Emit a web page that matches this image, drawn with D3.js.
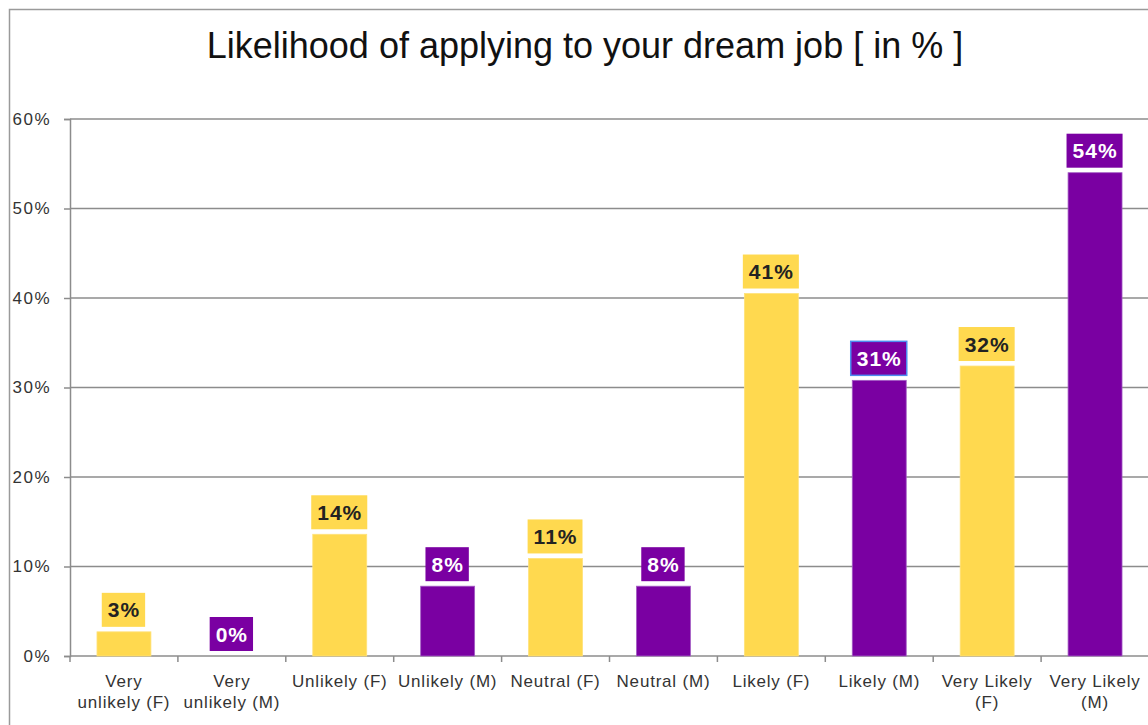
<html>
<head>
<script src="https://d3js.org/d3.v7.min.js"></script>
<style>
  body { margin: 0; background: #fff; }
  text { font-family: "Liberation Sans", Arial, Helvetica, sans-serif; }
</style>
</head>
<body>
<svg id="chart" width="1148" height="725"></svg>
<script>
    // data
    const categories = ["Very\nunlikely (F)", "Very\nunlikely (M)", "Unlikely (F)", "Unlikely (M)",
        "Neutral (F)", "Neutral (M)", "Likely (F)", "Likely (M)", "Very Likely\n(F)", "Very Likely\n(M)"];
    const values = [2.7, 0, 13.6, 7.8, 10.9, 7.8, 40.5, 30.8, 32.4, 54.0];
    const genders = ["F", "M", "F", "M", "F", "M", "F", "M", "F", "M"];
    const yTicks = [0, 10, 20, 30, 40, 50, 60];

    const svg = d3.select("#chart");
    const yellow = "#ffd94f", purple = "#7a00a2";

    // outer frame (runs off the right/bottom edge)
    svg.append("rect")
        .attr("x", 9.5).attr("y", 9.5)
        .attr("width", 1300).attr("height", 900)
        .attr("fill", "none").attr("stroke", "#9a9a9a").attr("stroke-width", 1.5);

    svg.append("text")
        .attr("x", 585).attr("y", 58)
        .attr("text-anchor", "middle")
        .attr("font-size", 36)
        .attr("fill", "#111")
        .text("Likelihood of applying to your dream job [ in % ]");

    const x = d3.scaleBand()
        .domain(categories)
        .range([70, 1149])
        .paddingInner(0.5).paddingOuter(0.25);

    const y = d3.scaleLinear().domain([0, 60]).range([656, 119]);

    // gridlines
    svg.append("g")
        .selectAll("line")
        .data(yTicks.slice(1))
        .join("line")
        .attr("x1", 70).attr("x2", 1148)
        .attr("y1", d => y(d)).attr("y2", d => y(d))
        .attr("stroke", "#8c8c8c").attr("stroke-width", 1.5);

    // y axis
    const yAxis = svg.append("g")
        .attr("transform", "translate(70,0)")
        .call(d3.axisLeft(y).tickValues(yTicks).tickFormat(d => d + "%").tickSize(6).tickPadding(13));
    yAxis.select(".domain").attr("stroke", "#8c8c8c").attr("stroke-width", 1.5);
    yAxis.selectAll(".tick line").attr("stroke", "#8c8c8c").attr("stroke-width", 1.5);
    yAxis.selectAll(".tick text").attr("font-size", 17).attr("fill", "#333")
        .attr("letter-spacing", 1.5)
        .attr("font-family", "Liberation Sans, Arial, sans-serif");

    // x axis line + ticks at band boundaries
    const step = x.step();
    const x0 = 70;
    svg.append("line")
        .attr("x1", 70).attr("x2", 1148).attr("y1", 656).attr("y2", 656)
        .attr("stroke", "#8c8c8c").attr("stroke-width", 1.5);
    svg.append("g")
        .selectAll("line")
        .data(d3.range(categories.length + 1))
        .join("line")
        .attr("x1", i => x0 + i * step).attr("x2", i => x0 + i * step)
        .attr("y1", 656).attr("y2", 662)
        .attr("stroke", "#8c8c8c").attr("stroke-width", 1.5);

    // x labels
    svg.append("g")
        .selectAll("text")
        .data(categories)
        .join("text")
        .attr("text-anchor", "middle")
        .attr("font-size", 17)
        .attr("letter-spacing", 0.8)
        .attr("fill", "#333")
        .attr("transform", d => `translate(${x(d) + x.bandwidth() / 2},687)`)
        .selectAll("tspan")
        .data(d => d.split("\n"))
        .join("tspan")
        .attr("x", 0)
        .attr("y", (d, i) => i * 21)
        .text(d => d);

    // bars
    svg.append("g")
        .selectAll("rect")
        .data(values)
        .join("rect")
        .attr("x", (d, i) => x(categories[i]))
        .attr("y", d => y(d))
        .attr("width", x.bandwidth())
        .attr("height", d => y(0) - y(d))
        .attr("fill", (d, i) => genders[i] === "F" ? yellow : purple)
        .attr("stroke", (d, i) => genders[i] === "F" ? "#ffe27a" : "#a35cc4")
        .attr("stroke-width", 0.8);

    // value labels in boxes
    const lab = svg.append("g")
        .selectAll("g")
        .data(values)
        .join("g")
        .attr("transform", (d, i) => `translate(${x(categories[i]) + x.bandwidth() / 2},${y(d) - 22})`);

    lab.append("text")
        .attr("text-anchor", "middle")
        .attr("dy", "0.36em")
        .attr("font-size", 21)
        .attr("font-weight", "bold")
        .attr("letter-spacing", 1)
        .attr("fill", (d, i) => genders[i] === "F" ? "#222" : "#fff")
        .text(d => Math.round(d) + "%");

    lab.each(function(d, i) {
        const g = d3.select(this);
        const bb = g.select("text").node().getBBox();
        g.insert("rect", "text")
            .attr("x", bb.x - 6).attr("y", -17)
            .attr("width", bb.width + 11).attr("height", 34)
            .attr("fill", genders[i] === "F" ? yellow : purple)
            .attr("stroke", i === 7 ? "#4d8cf0" : "none")
            .attr("stroke-width", 1.5);
    });
</script>
</body>
</html>
